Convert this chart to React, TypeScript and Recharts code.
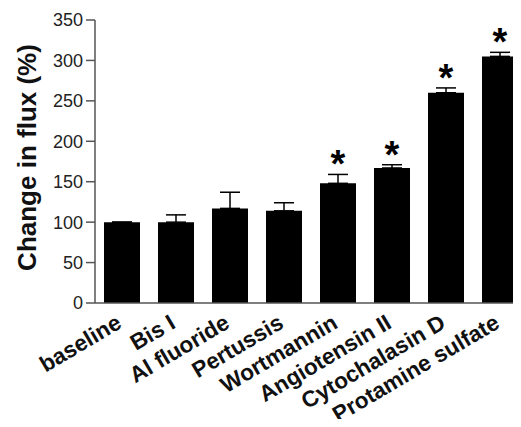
import { BarChart, Bar, XAxis, YAxis, ErrorBar, LabelList } from 'recharts'

const treatments = [
  'baseline',
  'Bis I',
  'Al fluoride',
  'Pertussis',
  'Wortmannin',
  'Angiotensin II',
  'Cytochalasin D',
  'Protamine sulfate'
]
const fluxChange = [100, 100, 117, 114, 148, 167, 260, 305]
const fluxError = [0, 9, 20, 10, 11, 4, 6, 5]
const significant = [false, false, false, false, true, true, true, true]
const yTicks = [0, 50, 100, 150, 200, 250, 300, 350]

const FONT = '"Liberation Sans", Arial, Helvetica, sans-serif'

const chartData = treatments.map((name, i) => ({
  name,
  value: fluxChange[i],
  err: fluxError[i],
  errRange: [0, fluxError[i]],
  star: significant[i] ? '*' : ''
}))

const XTick = (props: any) => {
  const { x, y, payload } = props
  const ax = x + 1
  const ay = y + 24
  return (
    <text
      x={ax}
      y={ay}
      textAnchor="end"
      transform={`rotate(-30.5, ${ax}, ${ay})`}
      fontFamily={FONT}
      fontWeight="bold"
      fontSize={22.5}
      fill="#111"
    >
      {payload.value}
    </text>
  )
}

const Star = (props: any) => {
  const { x, y, width, value } = props
  if (!value) return null
  return (
    <text
      x={x + width / 2}
      y={y + 3}
      textAnchor="middle"
      fontFamily={FONT}
      fontWeight="bold"
      fontSize={38}
      fill="#000"
    >
      {value}
    </text>
  )
}

const YLabel = (props: any) => {
  const { viewBox } = props
  const cy = viewBox.y + viewBox.height / 2 - 4
  const cx = 36
  return (
    <text
      x={cx}
      y={cy}
      textAnchor="middle"
      transform={`rotate(-90, ${cx}, ${cy})`}
      fontFamily={FONT}
      fontWeight="bold"
      fontSize={26}
      fill="#111"
    >
      Change in flux (%)
    </text>
  )
}

export default function App() {
  return (
    <div style={{ margin: -8, width: 521, height: 427, background: '#fff' }}>
      <BarChart
        width={521}
        height={427}
        data={chartData}
        margin={{ top: 20, right: -6, left: 0, bottom: 0 }}
        barCategoryGap={9}
      >
        <XAxis
          dataKey="name"
          height={124}
          tickLine={false}
          tickSize={0}
          tickMargin={0}
          interval={0}
          tick={<XTick />}
          axisLine={{ stroke: '#555', strokeWidth: 1.5 }}
        />
        <YAxis
          width={95}
          domain={[0, 350]}
          ticks={yTicks}
          interval={0}
          tickSize={9}
          tickMargin={3}
          axisLine={{ stroke: '#555', strokeWidth: 1.5 }}
          tickLine={{ stroke: '#555', strokeWidth: 1.5 }}
          tick={{ fontFamily: FONT, fontSize: 18, fill: '#222' }}
          label={<YLabel />}
        />
        <Bar dataKey="value" stackId="a" fill="#000" isAnimationActive={false}>
          <ErrorBar dataKey="errRange" width={10} stroke="#000" strokeWidth={1.5} />
        </Bar>
        <Bar dataKey="err" stackId="a" fill="transparent" isAnimationActive={false}>
          <LabelList dataKey="star" content={<Star />} />
        </Bar>
      </BarChart>
    </div>
  )
}
